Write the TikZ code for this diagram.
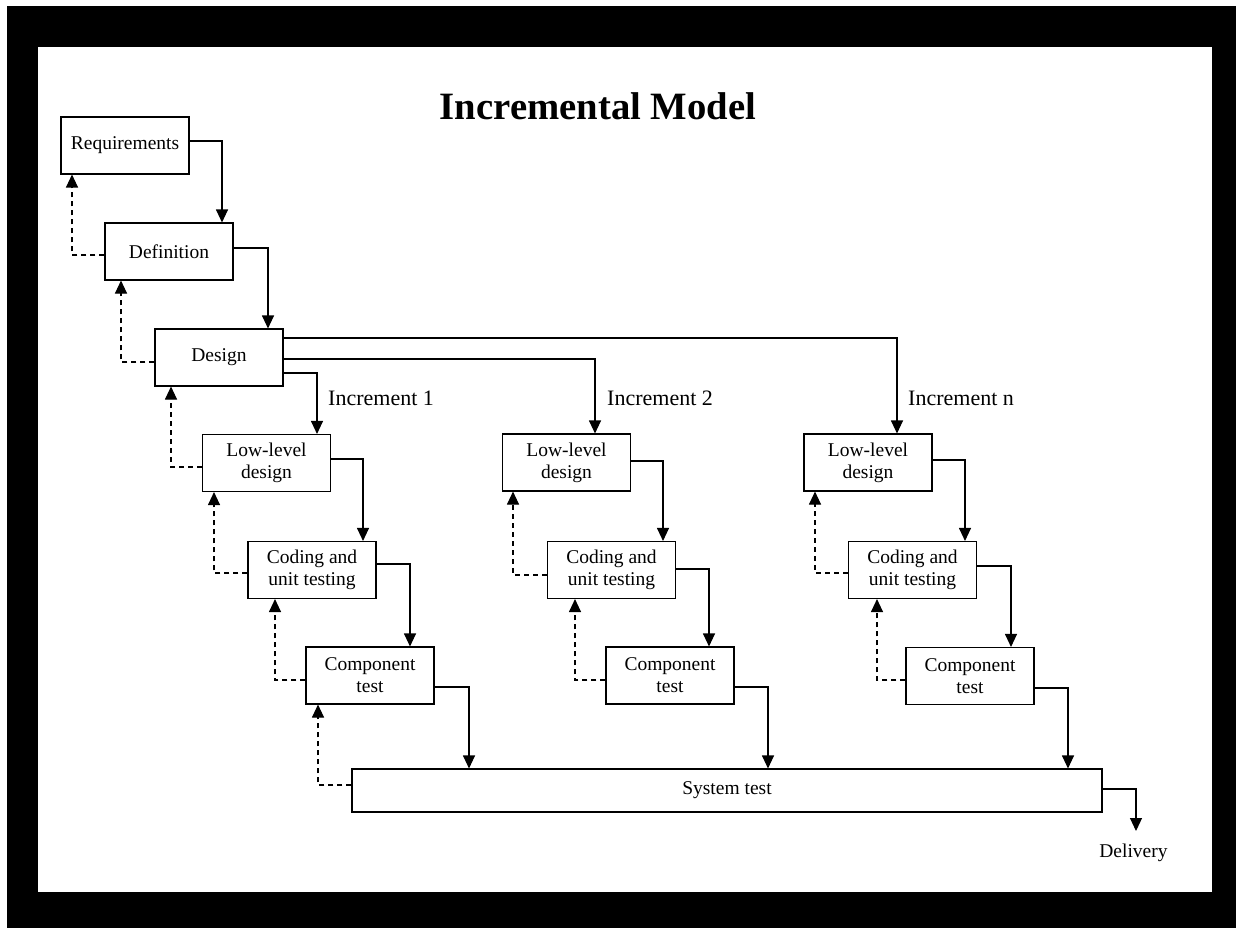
\documentclass[tikz,border=0pt]{standalone}
\usepackage{fontspec}
\setmainfont{Liberation Serif}
\usetikzlibrary{arrows.meta}
\begin{document}
\begin{tikzpicture}[x=1pt,y=-1pt,
  box/.style={draw, line width=1.1pt, minimum width=128pt, minimum height=57pt, inner sep=0pt, align=center, font=\fontsize{19.5}{22}\selectfont},
  arr/.style={line width=1.1pt, -{Triangle[width=12pt,length=13pt]}},
  fb/.style={arr, dash pattern=on 5pt off 4pt},
  inc/.style={anchor=base west, font=\fontsize{22}{26}\selectfont, inner sep=0pt},
  lbl/.style={anchor=base, font=\fontsize{19.5}{22}\selectfont, inner sep=0pt}]
\useasboundingbox (0,0) rectangle (1236,928);
\fill[white] (0,0) rectangle (1236,928);
\fill[black] (7,6) rectangle (1236,928);
\fill[white] (38,47) rectangle (1212,892);

\node[anchor=base, inner sep=0pt, font=\fontsize{38.7}{44}\selectfont\bfseries] (title) at (598,120) {Incremental Model};

\node[box] (req) at (125,145.5) {Requirements};
\node[box] (def) at (169,251.5) {Definition};
\node[box] (des) at (219,357.5) {Design};

\node[box] (lld1) at (266.5,463) {Low-level\\design};
\node[box] (cod1) at (312,570) {Coding and\\unit testing};
\node[box] (cmp1) at (370,675.5) {Component\\test};

\node[box] (lld2) at (566.5,462.5) {Low-level\\design};
\node[box] (cod2) at (611.5,570) {Coding and\\unit testing};
\node[box] (cmp2) at (670,675.5) {Component\\test};

\node[box] (lldn) at (868,462.5) {Low-level\\design};
\node[box] (codn) at (912.5,570) {Coding and\\unit testing};
\node[box] (cmpn) at (970,676) {Component\\test};

\node[box, minimum width=750pt, minimum height=43pt] (sys) at (727,790.5) {System test};

\node[inc] (inc1) at (328,405) {Increment 1};
\node[inc] (inc2) at (607,405) {Increment 2};
\node[inc] (incn) at (908,405) {Increment n};

\coordinate (deliv) at (1136,831);
\node[lbl] (delivlbl) at (1133.5,857) {Delivery};

% forward flow
\draw[arr] ([yshift=4.5pt]req.east) -| ([xshift=53pt]def.north);
\draw[arr] ([yshift=3.5pt]def.east) -| ([xshift=49pt]des.north);
\draw[arr] ([yshift=-15.5pt]des.east) -| ([xshift=50.5pt]lld1.north);
\draw[arr] ([yshift=-1.5pt]des.east) -| ([xshift=28.5pt]lld2.north);
\draw[arr] ([yshift=19.5pt]des.east) -| ([xshift=29pt]lldn.north);

\draw[arr] ([yshift=4pt]lld1.east) -| ([xshift=51pt]cod1.north);
\draw[arr] ([yshift=6pt]cod1.east) -| ([xshift=40pt]cmp1.north);
\draw[arr] ([yshift=-11.5pt]cmp1.east) -| ([xshift=-258pt]sys.north);

\draw[arr] ([yshift=1.5pt]lld2.east) -| ([xshift=51.5pt]cod2.north);
\draw[arr] ([yshift=1pt]cod2.east) -| ([xshift=39pt]cmp2.north);
\draw[arr] ([yshift=-11.5pt]cmp2.east) -| ([xshift=41pt]sys.north);

\draw[arr] ([yshift=2.5pt]lldn.east) -| ([xshift=52.5pt]codn.north);
\draw[arr] ([yshift=4pt]codn.east) -| ([xshift=41pt]cmpn.north);
\draw[arr] ([yshift=-12pt]cmpn.east) -| ([xshift=341pt]sys.north);

\draw[arr] ([yshift=1.5pt]sys.east) -| (deliv);

% feedback
\draw[fb] ([yshift=-3.5pt]def.west) -| ([xshift=-53pt]req.south);
\draw[fb] ([yshift=-4.5pt]des.west) -| ([xshift=-48pt]def.south);
\draw[fb] ([yshift=-4pt]lld1.west) -| ([xshift=-48pt]des.south);
\draw[fb] ([yshift=-3pt]cod1.west) -| ([xshift=-52.5pt]lld1.south);
\draw[fb] ([yshift=-4.5pt]cmp1.west) -| ([xshift=-37pt]cod1.south);
\draw[fb] ([yshift=5.5pt]sys.west) -| ([xshift=-52pt]cmp1.south);

\draw[fb] ([yshift=-5pt]cod2.west) -| ([xshift=-53.5pt]lld2.south);
\draw[fb] ([yshift=-4.5pt]cmp2.west) -| ([xshift=-36.5pt]cod2.south);

\draw[fb] ([yshift=-3pt]codn.west) -| ([xshift=-53pt]lldn.south);
\draw[fb] ([yshift=-4pt]cmpn.west) -| ([xshift=-35.5pt]codn.south);
\end{tikzpicture}
\end{document}
